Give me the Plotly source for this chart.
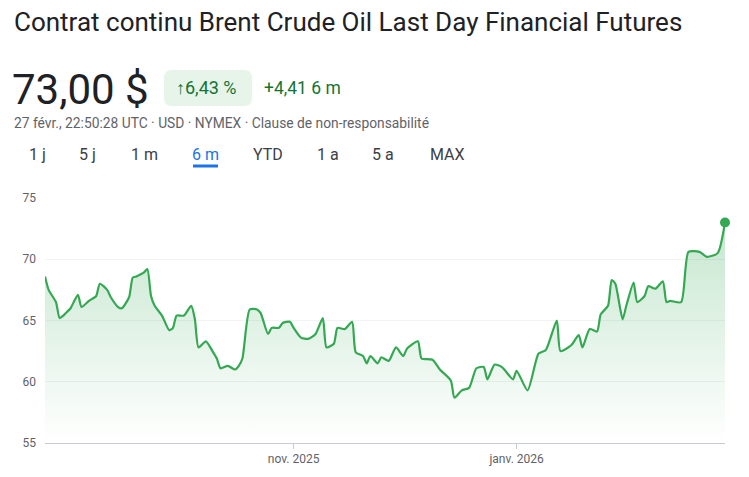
import pandas as pd
import plotly.graph_objects as go

# Brent crude, 6 month view
start_date = "2025-08-25"
day_offsets = [0, 1, 3, 4, 5, 6, 7, 9, 10, 12, 14, 15, 17, 18, 20, 21, 23, 24, 25, 27,
               28, 29, 30, 32, 34, 35, 36, 38, 40, 41, 42, 44, 46, 47, 48, 50, 52, 53, 54, 56,
               58, 59, 61, 62, 64, 65, 67, 68, 70, 72, 74, 76, 77, 79, 80, 82, 84, 85, 87, 88,
               89, 91, 92, 94, 96, 98, 99, 102, 103, 106, 108, 111, 112, 114, 116, 118, 120, 121, 123, 125,
               128, 129, 132, 135, 137, 140, 141, 144, 146, 147, 149, 151, 152, 154, 155, 156, 158, 159, 161, 162,
               164, 165, 167, 169, 170, 171, 174, 176, 179, 181, 184, 186]
prices = [68.6, 67.5, 66.5, 65.2, 65.4, 65.7, 66.0, 67.1, 66.1, 66.6, 67.0, 68.0, 67.5, 66.9, 66.1, 66.0, 66.9, 68.5, 68.6, 68.9,
          69.2, 67.0, 66.2, 65.4, 64.2, 64.4, 65.4, 65.4, 66.2, 65.1, 62.8, 63.3, 62.4, 61.9, 61.1, 61.3, 61.0, 61.3, 61.9, 65.9,
          65.9, 65.6, 63.9, 64.4, 64.4, 64.8, 64.9, 64.4, 63.6, 63.5, 63.9, 65.2, 62.8, 63.1, 64.4, 64.3, 64.9, 62.4, 62.1, 61.5,
          62.1, 61.5, 62.0, 61.7, 62.8, 62.1, 62.7, 63.3, 61.9, 61.8, 61.0, 60.1, 58.7, 59.3, 59.5, 61.1, 61.2, 60.2, 61.4, 61.2,
          60.2, 60.9, 59.3, 62.3, 62.6, 65.0, 62.5, 63.0, 63.8, 62.8, 64.3, 64.1, 65.5, 66.2, 68.3, 68.0, 65.1, 66.2, 68.1, 66.5,
          67.0, 67.8, 67.6, 68.2, 66.5, 66.6, 66.5, 70.6, 70.6, 70.2, 70.5, 73.0]
y_ticks = [55, 60, 65, 70, 75]
x_ticks = ["2025-11-01", "2026-01-01"]
x_tick_labels = ["nov. 2025", "janv. 2026"]
periods = ["1 j", "5 j", "1 m", "6 m", "YTD", "1 a", "5 a", "MAX"]

dates = pd.to_datetime(start_date) + pd.to_timedelta(day_offsets, unit="D")
green = "#34a853"
W, H = 749, 477
OFF = 8  # page body margin
L, R, T, B = 45 - OFF, 32, 198 - OFF, 42

fig = go.Figure()
# baseline for the gradient fill
fig.add_trace(go.Scatter(x=dates, y=[y_ticks[0]] * len(dates), mode="lines",
                         line=dict(width=0), hoverinfo="skip", showlegend=False))
fig.add_trace(go.Scatter(x=dates, y=prices, mode="lines", fill="tonexty",
                         fillgradient=dict(type="vertical",
                                           colorscale=[[0, "rgba(52,168,83,0)"], [1, "rgba(52,168,83,0.28)"]]),
                         line=dict(color=green, width=2.2, shape="spline", smoothing=0.6),
                         showlegend=False))
fig.add_trace(go.Scatter(x=[dates[-1]], y=[prices[-1]], mode="markers",
                         marker=dict(color=green, size=10), showlegend=False, cliponaxis=False))

fig.update_layout(
    width=W, height=H, paper_bgcolor="white", plot_bgcolor="white",
    margin=dict(l=L, r=R, t=T, b=B),
    font=dict(family="Roboto, Arial", color="#5f6368"),
    xaxis=dict(range=[dates[0], dates[-1]], tickvals=pd.to_datetime(x_ticks),
               ticktext=x_tick_labels, showgrid=False, showline=True, linecolor="#c8cbcf",
               ticks="outside", ticklen=5, tickcolor="#c8cbcf", tickfont=dict(size=12, color="#5f6368")),
    yaxis=dict(range=[55, 75], tickvals=y_ticks, showgrid=True, gridcolor="#f1f3f4",
               zeroline=False, ticks="", ticklabelstandoff=8, tickfont=dict(size=12, color="#5f6368")),
)

# paper coords are relative to the plot area, so convert from screenshot pixels
def px2x(p):
    return (p - OFF - L) / (W - L - R)

def px2y(p):
    return (H - B - (p - OFF)) / (H - B - T)

ann = [
    dict(text="Contrat continu Brent Crude Oil Last Day Financial Futures", x=12, y=22, size=26, color="#202124"),
    dict(text="73,00 $", x=10, y=89, size=42, color="#202124"),
    dict(text="↑6,43 %", x=174, y=88, size=18, color="#137333"),
    dict(text="+4,41 6 m", x=262, y=88, size=17.5, color="#137333"),
    dict(text="27 févr., 22:50:28 UTC · USD · NYMEX · Clause de non-responsabilité", x=12, y=123, size=13.8, color="#5f6368"),
]
for a in ann:
    fig.add_annotation(text=a["text"], x=px2x(a["x"]), y=px2y(a["y"]), xref="paper", yref="paper",
                       xanchor="left", yanchor="middle", showarrow=False,
                       font=dict(size=a["size"], color=a["color"], family="Roboto, Arial"))

# percent badge (rounded rectangle)
bx0, bx1, by0, by1, rr = px2x(164), px2x(252), px2y(106), px2y(70), 8
rx = rr / (W - L - R)
ry = rr / (H - B - T)
badge = (f"M {bx0 + rx},{by1} L {bx1 - rx},{by1} Q {bx1},{by1} {bx1},{by1 - ry} "
         f"L {bx1},{by0 + ry} Q {bx1},{by0} {bx1 - rx},{by0} L {bx0 + rx},{by0} "
         f"Q {bx0},{by0} {bx0},{by0 + ry} L {bx0},{by1 - ry} Q {bx0},{by1} {bx0 + rx},{by1} Z")
fig.add_shape(type="path", path=badge, xref="paper", yref="paper",
              fillcolor="#e6f4ea", line=dict(width=0), layer="below")

tab_x = [37, 87, 144, 205, 268, 328, 383, 447]
for t, xp in zip(periods, tab_x):
    sel = t == "6 m"
    fig.add_annotation(text=t, x=px2x(xp), y=px2y(154), xref="paper", yref="paper", showarrow=False,
                       xanchor="center", yanchor="middle",
                       font=dict(size=16, color="#1a73e8" if sel else "#3c4043", family="Roboto, Arial"))
fig.add_shape(type="line", xref="paper", yref="paper", x0=px2x(193), x1=px2x(218), y0=px2y(166), y1=px2y(166),
              line=dict(color="#1a73e8", width=3))

fig.write_html("out.html")
